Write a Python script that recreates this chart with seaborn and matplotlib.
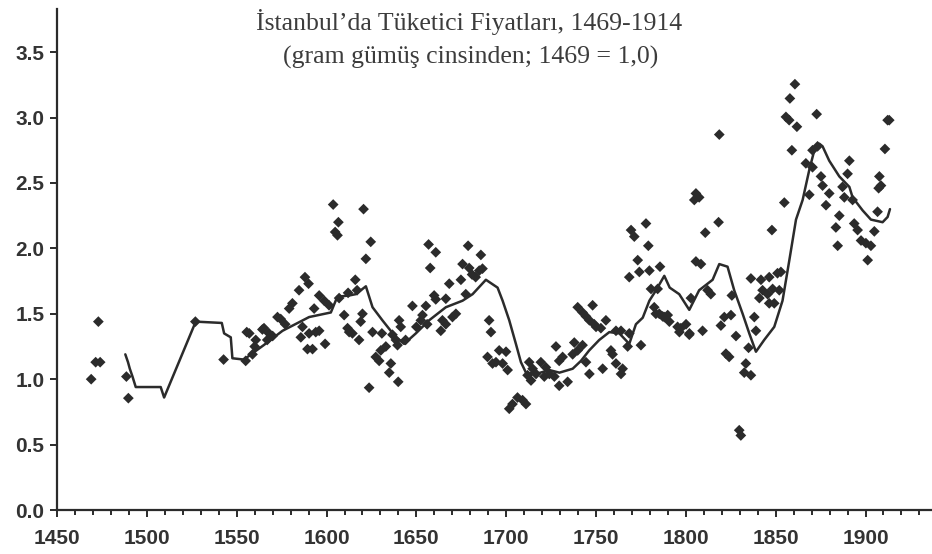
#!/usr/bin/env python3
"""Istanbul consumer prices 1469-1914 (grams of silver, 1469 = 1.0)."""

import numpy as np
import pandas as pd

import matplotlib

matplotlib.use("Agg")
import matplotlib.pyplot as plt
from matplotlib.ticker import MultipleLocator
import seaborn as sns


TITLE_LINE1 = "İstanbul’da Tüketici Fiyatları, 1469-1914"
TITLE_LINE2 = "(gram gümüş cinsinden; 1469 = 1,0)"

# smoothed index (solid line)
line_years = [
    1488, 1489.5, 1490.5, 1492, 1493.8, 1507.7, 1509.6, 1527.2, 1541.7, 1543,
    1546.7, 1547.6, 1554, 1557, 1565, 1575.5, 1590.3, 1602.4, 1606, 1612.6,
    1616.3, 1621.9, 1625.6, 1631.1, 1638.6, 1643.2, 1649.7, 1657.1, 1666.4, 1675.7,
    1681.3, 1688.7, 1695.2, 1698, 1701.7, 1705.4, 1708.2, 1711, 1716.6, 1724,
    1729.6, 1737, 1741.6, 1746.2, 1751.8, 1757.4, 1763, 1768.5, 1772.2, 1776,
    1779.7, 1783.4, 1788, 1791, 1796.3, 1801.9, 1807.4, 1814.9, 1818.6, 1823.2,
    1826.9, 1831.6, 1835.3, 1839, 1843.6, 1849.2, 1853.8, 1857.6, 1861.3, 1865,
    1868.7, 1871.5, 1874.3, 1876.1, 1879.8, 1885.4, 1891, 1892.8, 1898.4, 1903,
    1909.5, 1912.3, 1913.6,
]
line_values = [
    1.19, 1.13, 1.08, 1.02, 0.94, 0.94, 0.86, 1.44, 1.43, 1.35,
    1.32, 1.16, 1.15, 1.18, 1.26, 1.37, 1.475, 1.51, 1.63, 1.64,
    1.65, 1.71, 1.55, 1.45, 1.32, 1.27, 1.35, 1.45, 1.55, 1.60,
    1.65, 1.76, 1.70, 1.60, 1.45, 1.27, 1.13, 1.05, 1.04, 1.07,
    1.05, 1.08, 1.14, 1.22, 1.30, 1.36, 1.35, 1.27, 1.42, 1.47,
    1.60, 1.68, 1.79, 1.70, 1.65, 1.53, 1.68, 1.76, 1.88, 1.86,
    1.68, 1.50, 1.35, 1.21, 1.30, 1.40, 1.60, 1.91, 2.22, 2.37,
    2.60, 2.75, 2.80, 2.78, 2.67, 2.55, 2.47, 2.39, 2.29, 2.22,
    2.20, 2.24, 2.30,
]

# yearly observations (diamonds)
point_years = [
    1469, 1471.5, 1474, 1473, 1488.6, 1489.7,
    1527, 1542.7, 1555, 1555.6, 1564.3,
    1557, 1558.8, 1560.6, 1565.2, 1568, 1572.7, 1574.5, 1579.2, 1581, 1584.7,
    1588, 1590, 1585.7, 1586.6, 1590.3, 1594, 1595.9, 1589.4, 1592.2, 1599.2,
    1593.1, 1595.9, 1598.7, 1601.4, 1560, 1567, 1570, 1577,
    1603.7, 1606.6, 1604.8, 1606.1, 1620.6, 1624.6, 1621.9, 1616, 1609.8, 1611.7,
    1612.6, 1614.4, 1618.1, 1620, 1619, 1625.6, 1630.8, 1623.7, 1633, 1630.2,
    1627.4, 1629.3, 1635.8, 1634.9, 1639.9, 1636.7, 1638.6, 1639.5, 1640.4, 1641.3,
    1607, 1612, 1617,
    1647.8, 1655.3, 1653.4, 1652.5, 1656.8, 1660.8, 1657.7, 1659.9, 1660.8, 1666.4,
    1668.3, 1674.8, 1664.5, 1666.4, 1663.6, 1672, 1670.1, 1677.5, 1678.8, 1685.9,
    1675.7, 1679.4, 1685, 1686.8, 1681, 1683, 1644, 1650, 1656,
    1690.5, 1691.5, 1689.6, 1692.4, 1694.3, 1696.1, 1699.9, 1698, 1700.8,
    1701.7, 1703.5, 1706.3, 1709.1, 1711,
    1712.8, 1714.7, 1716.6, 1711.9, 1713.8, 1719.3, 1722.1, 1724, 1721.2, 1727.7,
    1729.5, 1731.4, 1726.8, 1729.5, 1734.2, 1737.9, 1737, 1739.8, 1742.5, 1744.4,
    1746.3, 1753.7, 1739.8, 1742.5, 1744.4, 1746.3, 1749, 1748.1, 1750, 1752.7,
    1755.5, 1761.1, 1763.9, 1759.2, 1758.3, 1761.1, 1764.8, 1763.9, 1767.6, 1768.5,
    1775,
    1769.5, 1771.3, 1777.8, 1779.1, 1773.2, 1768.5, 1774.1, 1779.7, 1785.6, 1780.6,
    1784.3, 1782.4, 1785.2, 1787.1, 1789.9, 1790.8, 1796.4, 1800.1, 1802, 1783.3,
    1788, 1795.4, 1797.2, 1801.9,
    1804.7, 1805.6, 1807.4, 1805.6, 1808.4, 1810.8, 1818.2, 1818.6, 1812.1, 1813.9,
    1802.8, 1809.3, 1825.6, 1821.4, 1825.1, 1819.5, 1827.9, 1834.9, 1822.3, 1824.1,
    1833.4, 1832.5, 1836.2, 1829.7, 1830.6, 1838.1, 1839, 1836.2, 1841.8, 1846.4,
    1851, 1852.9, 1842.7, 1845.5, 1848.3, 1852, 1840.9, 1846.4, 1849.2, 1847.9,
    1854.8,
    1860.7, 1857.9, 1855.7, 1857.5, 1861.8, 1872.8, 1859, 1866.8, 1870.5, 1870.5,
    1873.3, 1891, 1890, 1875.2, 1876.1, 1879.8, 1878, 1868.7, 1887.2, 1888.2,
    1892.8, 1907.7, 1908.6, 1907.3, 1906.7, 1885.4, 1883.5, 1884.5, 1893.7, 1895.6,
    1897.5, 1900.2, 1903, 1904.9, 1901.2, 1910.8, 1912.3, 1913.2,
]
point_values = [
    1.00, 1.13, 1.13, 1.44, 1.02, 0.855,
    1.44, 1.15, 1.14, 1.36, 1.38,
    1.35, 1.19, 1.30, 1.39, 1.35, 1.475, 1.46, 1.54, 1.58, 1.68,
    1.78, 1.73, 1.32, 1.40, 1.35, 1.36, 1.37, 1.23, 1.23, 1.27,
    1.54, 1.64, 1.60, 1.565, 1.25, 1.30, 1.33, 1.42,
    2.335, 2.20, 2.125, 2.10, 2.30, 2.05, 1.92, 1.76, 1.49, 1.39,
    1.36, 1.35, 1.30, 1.50, 1.44, 1.36, 1.35, 0.935, 1.25, 1.22,
    1.17, 1.14, 1.12, 1.05, 0.98, 1.34, 1.30, 1.26, 1.45, 1.40,
    1.62, 1.66, 1.68,
    1.56, 1.56, 1.49, 1.45, 2.03, 1.97, 1.85, 1.64, 1.61, 1.615,
    1.73, 1.76, 1.45, 1.42, 1.37, 1.50, 1.475, 1.65, 2.02, 1.95,
    1.88, 1.85, 1.83, 1.845, 1.80, 1.78, 1.30, 1.40, 1.42,
    1.45, 1.36, 1.17, 1.12, 1.13, 1.22, 1.21, 1.12, 1.07,
    0.774, 0.81, 0.86, 0.84, 0.81,
    1.13, 1.08, 1.04, 1.03, 0.99, 1.13, 1.09, 1.04, 1.02, 1.25,
    1.14, 1.17, 1.02, 0.95, 0.98, 1.28, 1.19, 1.22, 1.26, 1.13,
    1.04, 1.08, 1.55, 1.51, 1.48, 1.45, 1.42, 1.565, 1.40, 1.39,
    1.45, 1.37, 1.37, 1.19, 1.22, 1.12, 1.08, 1.04, 1.25, 1.35,
    1.26,
    2.14, 2.09, 2.19, 2.02, 1.91, 1.78, 1.82, 1.83, 1.86, 1.69,
    1.69, 1.55, 1.50, 1.48, 1.49, 1.44, 1.36, 1.42, 1.35, 1.50,
    1.475, 1.40, 1.39, 1.34,
    2.37, 2.42, 2.39, 1.90, 1.88, 2.12, 2.20, 2.87, 1.68, 1.65,
    1.62, 1.37, 1.64, 1.475, 1.49, 1.41, 1.33, 1.24, 1.195, 1.17,
    1.12, 1.05, 1.03, 0.61, 0.57, 1.475, 1.37, 1.77, 1.76, 1.78,
    1.81, 1.82, 1.68, 1.65, 1.69, 1.68, 1.62, 1.58, 1.58, 2.14,
    2.35,
    3.255, 3.146, 3.005, 2.98, 2.93, 3.026, 2.75, 2.65, 2.62, 2.75,
    2.78, 2.67, 2.57, 2.55, 2.48, 2.42, 2.33, 2.41, 2.47, 2.39,
    2.37, 2.55, 2.48, 2.46, 2.28, 2.25, 2.16, 2.02, 2.19, 2.14,
    2.06, 2.04, 2.02, 2.13, 1.91, 2.76, 2.98, 2.98,
]

y_ticks = [0.0, 0.5, 1.0, 1.5, 2.0, 2.5, 3.0, 3.5]
x_ticks = [1450, 1500, 1550, 1600, 1650, 1700, 1750, 1800, 1850, 1900]

INK = "#2b2b2b"


def main():
    sns.set_theme(style="ticks")
    plt.rcParams["font.family"] = ["Liberation Sans", "DejaVu Sans"]

    line_df = pd.DataFrame({"year": line_years, "value": line_values})
    pts_df = pd.DataFrame({"year": point_years, "value": point_values})

    fig = plt.figure(figsize=(9.32, 5.54), dpi=100)
    ax = fig.add_axes([0.0612, 0.0794, 0.9388, 0.9044])

    sns.scatterplot(data=pts_df, x="year", y="value", marker="D", s=30,
                    color=INK, edgecolor="none", ax=ax, zorder=3)
    sns.lineplot(data=line_df, x="year", y="value", sort=False, estimator=None,
                 color=INK, linewidth=1.8, ax=ax, zorder=2)

    ax.set_xlim(1450, 1937)
    ax.set_ylim(0, 3.83)
    ax.set_xticks(x_ticks)
    ax.xaxis.set_minor_locator(MultipleLocator(10))
    ax.set_yticks(y_ticks)
    ax.set_yticklabels([f"{v:.1f}" for v in y_ticks])
    ax.set_xlabel("")
    ax.set_ylabel("")

    for side in ("top", "right"):
        ax.spines[side].set_visible(False)
    for side in ("left", "bottom"):
        ax.spines[side].set_linewidth(1.6)
        ax.spines[side].set_color(INK)

    ax.tick_params(axis="both", which="major", direction="out", width=1.4,
                   color=INK, labelcolor="#333333", labelsize=15)
    ax.tick_params(axis="x", which="major", length=5, pad=9)
    ax.tick_params(axis="x", which="minor", length=3.5, width=1.4, color=INK)
    ax.tick_params(axis="y", which="major", length=5, pad=4)
    for lab in ax.get_xticklabels() + ax.get_yticklabels():
        lab.set_fontweight("bold")

    serif = ["Liberation Serif", "DejaVu Serif"]
    fig.text(0.503, 0.960, TITLE_LINE1, ha="center", va="center",
             family=serif, fontsize=18.5, color="#3c3c3c")
    fig.text(0.505, 0.897, TITLE_LINE2, ha="center", va="center",
             family=serif, fontsize=18.5, color="#3c3c3c")

    fig.savefig("out.png", dpi=100)
    plt.close(fig)


if __name__ == "__main__":
    main()
